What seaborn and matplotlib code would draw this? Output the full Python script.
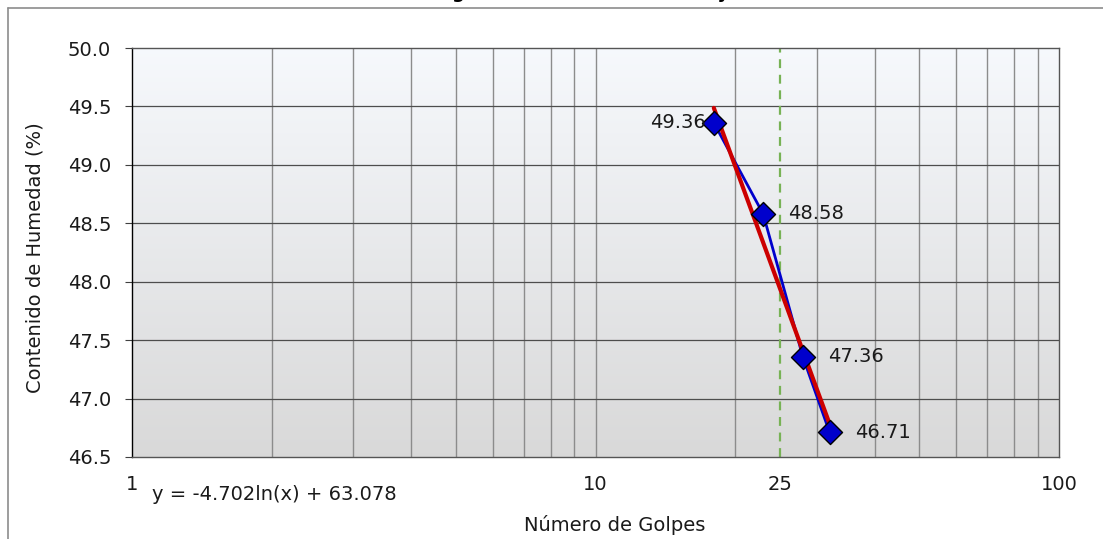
import numpy as np
import pandas as pd
import seaborn as sns
import matplotlib.pyplot as plt
from matplotlib.ticker import FixedLocator, NullFormatter

# data
golpes = [18, 23, 28, 32]
humedad = [49.36, 48.58, 47.36, 46.71]
trend_x = [18, 32]
x_ticks = [1, 10, 25, 100]
y_ticks = [46.5, 47.0, 47.5, 48.0, 48.5, 49.0, 49.5, 50.0]
minor_x = [2, 3, 4, 5, 6, 7, 8, 9, 20, 30, 40, 50, 60, 70, 80, 90]
slope, intercept = -4.702, 63.078

sns.set_theme(style="white")
plt.rcParams["font.family"] = ["DejaVu Sans"]
FS = 14
TXT = "#1a1a1a"

fig = plt.figure(figsize=(11.03, 5.39), dpi=100)
ax = fig.add_axes([132 / 1103, 1 - 457 / 539, 927 / 1103, 409 / 539])

# gradient background of the plot area
grad = np.linspace(0, 1, 256)[:, None, None]
top = np.array([0.965, 0.975, 0.99])
bot = np.array([0.85, 0.85, 0.85])
img = top + (bot - top) * grad
ax.imshow(img, extent=[0, 1, 0, 1], transform=ax.transAxes, aspect="auto", zorder=0)

df = pd.DataFrame({"golpes": golpes, "humedad": humedad})
tr = pd.DataFrame({"x": trend_x, "y": [slope * np.log(v) + intercept for v in trend_x]})

ax.axvline(25, color="#77b255", ls=(0, (4, 3)), lw=1.6, zorder=2)
sns.lineplot(data=df, x="golpes", y="humedad", ax=ax, color="#0000cc", lw=2, zorder=3)
sns.lineplot(data=tr, x="x", y="y", ax=ax, color="#cc0000", lw=3, zorder=4)
sns.scatterplot(data=df, x="golpes", y="humedad", ax=ax, marker="D", s=150,
                color="#0000cc", edgecolor="black", linewidth=1, zorder=5)

offsets = [(-6, "right"), (18, "left"), (18, "left"), (18, "left")]
for xv, yv, (dx, ha) in zip(golpes, humedad, offsets):
    ax.annotate(f"{yv:.2f}", (xv, yv), xytext=(dx, 0), textcoords="offset points",
                ha=ha, va="center", fontsize=FS, color=TXT, zorder=6)

ax.set_xscale("log")
ax.set_xlim(1, 100)
ax.set_ylim(46.5, 50.0)
ax.xaxis.set_major_locator(FixedLocator(x_ticks))
ax.xaxis.set_minor_locator(FixedLocator(minor_x))
ax.xaxis.set_minor_formatter(NullFormatter())
ax.set_xticklabels([str(t) for t in x_ticks])
ax.set_yticks(y_ticks)
ax.set_yticklabels([f"{t:.1f}" for t in y_ticks])
ax.tick_params(axis="x", which="both", length=0, pad=13, labelsize=FS, colors=TXT)
ax.tick_params(axis="y", length=5, width=0.8, color="#404040", pad=10, labelsize=FS,
               colors=TXT, left=True)

for v in [2, 3, 4, 5, 6, 7, 8, 9, 10] + minor_x[8:]:
    ax.axvline(v, color="#8c8c8c", lw=1, zorder=1)
for v in y_ticks[1:-1]:
    ax.axhline(v, color="#4d4d4d", lw=0.9, zorder=1)

for s in ["top", "right", "bottom"]:
    ax.spines[s].set_color("#555555")
    ax.spines[s].set_linewidth(1)
ax.spines["left"].set_color("black")
ax.spines["left"].set_linewidth(1)

ax.set_xlabel("")
ax.set_ylabel("")
fig.text(35 / 1103, 1 - 258 / 539, "Contenido de Humedad (%)", rotation=90,
         ha="center", va="center", fontsize=FS, color=TXT)
fig.text(615 / 1103, 1 - 525 / 539, "Número de Golpes", ha="center", va="center",
         fontsize=FS, color=TXT)
fig.text(152 / 1103, 1 - 494 / 539, "y = -4.702ln(x) + 63.078", ha="left", va="center",
         fontsize=FS, color=TXT)

# title clipped by the top edge, as in the source image
fig.text(580 / 1103, 1 + 2 / 539, "Diagrama de Fluidez del Ensayo", ha="center",
         va="baseline", fontsize=13, fontweight="bold", color="black")

# outer chart frame
fig.add_artist(plt.Line2D([8 / 1103, 1], [1 - 8 / 539] * 2, color="#8c8c8c", lw=1.2,
                          transform=fig.transFigure))
fig.add_artist(plt.Line2D([8 / 1103] * 2, [0, 1 - 8 / 539], color="#8c8c8c", lw=1.2,
                          transform=fig.transFigure))

fig.savefig("out.png", dpi=100)
